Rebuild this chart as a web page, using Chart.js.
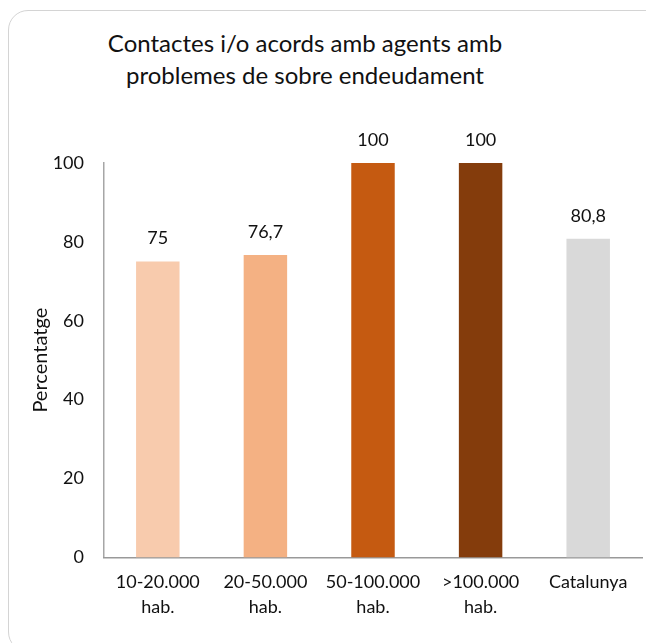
<!DOCTYPE html>
<html>
<head>
<meta charset="utf-8">
<script src="https://cdn.jsdelivr.net/npm/chart.js@4"></script>
<style>
  html, body { margin: 0; padding: 0; background: #fff; }
  body { width: 646px; height: 643px; position: relative; overflow: hidden; font-family: Lato, "Open Sans", sans-serif; }
  .frame { position: absolute; left: 8px; top: 10px; width: 680px; height: 640px; border: 1px solid #d4d4d4; border-radius: 20px; }
  .title { position: absolute; left: 0; top: 27px; width: 610px; text-align: center; font-size: 24px; line-height: 32px; color: #111; }
  canvas { position: absolute; left: 0; top: 0; }
</style>
</head>
<body>
<div class="frame"></div>
<div class="title">Contactes i/o acords amb agents amb<br>problemes de sobre endeudament</div>
<canvas id="grafic" width="646" height="643"></canvas>
<script>
// dades del gràfic
const categories = [['10-20.000', 'hab.'], ['20-50.000', 'hab.'], ['50-100.000', 'hab.'], ['>100.000', 'hab.'], 'Catalunya'];
const valors = [75, 76.7, 100, 100, 80.8];
const colorsBarres = ['#F8CBAD', '#F4B183', '#C55A11', '#843C0C', '#D9D9D9'];
const ticksY = [0, 20, 40, 60, 80, 100];

const fontText = "Lato, 'Open Sans', sans-serif";

// etiquetes de valor damunt de cada barra
const etiquetesValor = {
    id: 'etiquetesValor',
    afterDatasetsDraw(chart) {
        const ctx = chart.ctx;
        const meta = chart.getDatasetMeta(0);
        ctx.save();
        ctx.font = '18px ' + fontText;
        ctx.fillStyle = '#111';
        ctx.textAlign = 'center';
        ctx.textBaseline = 'middle';
        meta.data.forEach(function(bar, i) {
            ctx.fillText(String(valors[i]).replace('.', ','), bar.x, bar.y - 23);
        });
        ctx.restore();
    }
};

new Chart(document.getElementById('grafic'), {
    type: 'bar',
    data: {
        labels: categories,
        datasets: [{
            data: valors,
            backgroundColor: colorsBarres,
            borderWidth: 0,
            barPercentage: 0.404,
            categoryPercentage: 1.0
        }]
    },
    options: {
        responsive: false,
        animation: false,
        layout: { padding: { top: 163, left: 10, right: 4, bottom: 19 } },
        scales: {
            y: {
                min: 0,
                max: 100,
                afterBuildTicks(axis) { axis.ticks = ticksY.map(v => ({ value: v })); },
                afterFit(axis) { axis.width = 94; },
                border: { display: true, color: '#a6a6a6', width: 1.5 },
                grid: { display: false, drawOnChartArea: false, drawTicks: true, tickLength: 6, color: '#a6a6a6' },
                ticks: { color: '#111', font: { family: fontText, size: 18 }, padding: 14 },
                title: { display: true, text: 'Percentatge', color: '#111', font: { family: fontText, size: 20 }, padding: { top: 19, bottom: 0 } }
            },
            x: {
                border: { display: true, color: '#999', width: 1.5 },
                grid: { display: false },
                ticks: { color: '#111', font: { family: fontText, size: 18, lineHeight: 1.35 }, padding: 5, maxRotation: 0, autoSkip: false }
            }
        },
        plugins: {
            legend: { display: false },
            tooltip: { enabled: false }
        }
    },
    plugins: [etiquetesValor]
});
</script>
</body>
</html>
